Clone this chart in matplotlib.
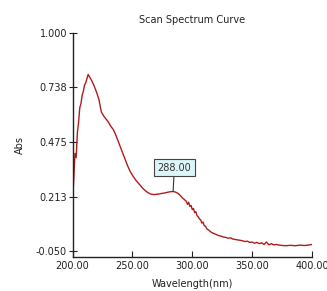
import numpy as np
import matplotlib
matplotlib.use("Agg")
import matplotlib.pyplot as plt

## Data
wavelength = [200, 201, 202, 203, 204, 205, 206, 207, 208, 209, 210, 211, 212, 213, 214,
              215, 216, 218, 220, 222, 224, 226, 228, 230, 232, 234, 236, 238, 240, 242,
              244, 246, 248, 250, 253, 256, 259, 262, 265, 268, 271, 274, 277, 280, 282,
              284, 286, 288, 290, 292, 294, 295, 296, 297, 298, 299, 300, 301, 302, 303,
              304, 305, 306, 307, 308, 309, 310, 311, 312, 314, 316, 318, 320, 322, 324,
              326, 328, 330, 332, 334, 336, 338, 340, 342, 344, 346, 348, 350, 352, 354,
              356, 358, 360, 362, 364, 366, 368, 370, 374, 378, 382, 386, 390, 394, 398, 400]
absorbance = [0.19, 0.30, 0.42, 0.40, 0.52, 0.57, 0.64, 0.66, 0.70, 0.72, 0.75, 0.76, 0.78, 0.80, 0.79,
              0.78, 0.77, 0.745, 0.715, 0.68, 0.62, 0.60, 0.585, 0.57, 0.55, 0.535, 0.51, 0.48, 0.45, 0.42,
              0.39, 0.36, 0.335, 0.315, 0.29, 0.27, 0.25, 0.235, 0.225, 0.222, 0.224, 0.227, 0.230, 0.234, 0.236,
              0.237, 0.234, 0.228, 0.218, 0.205, 0.195, 0.19, 0.175, 0.185, 0.165, 0.17, 0.15, 0.155, 0.135, 0.14,
              0.12, 0.115, 0.105, 0.10, 0.085, 0.09, 0.072, 0.07, 0.058, 0.05, 0.04, 0.035, 0.03, 0.025, 0.022,
              0.018, 0.016, 0.012, 0.014, 0.008, 0.006, 0.004, 0.002, 0.0, -0.004, -0.002, -0.008, -0.006, -0.012, -0.008,
              -0.014, -0.01, -0.018, -0.006, -0.02, -0.014, -0.02, -0.018, -0.022, -0.024, -0.022, -0.024, -0.021, -0.023, -0.020, -0.018]

x_ticks = [200, 250, 300, 350, 400]
x_tick_labels = ["200.00", "250.00", "300.00", "350.00", "400.00"]
y_ticks = [-0.05, 0.2125, 0.475, 0.7375, 1.0]
y_tick_labels = ["-0.050", "0.213", "0.475", "0.738", "1.000"]

peak_wl = 284
peak_abs = 0.237
peak_label = "288.00"

fig = plt.figure(figsize=(3.27, 2.91), dpi=100)
ax = fig.add_axes([0.222, 0.117, 0.732, 0.77])

ax.plot(wavelength, absorbance, color="#b01c1c", lw=1.0)

ax.set_xlim(200, 400)
ax.set_ylim(-0.078, 1.0)
ax.set_xticks(x_ticks)
ax.set_xticklabels(x_tick_labels)
ax.set_yticks(y_ticks)
ax.set_yticklabels(y_tick_labels)

for side in ["top", "right"]:
    ax.spines[side].set_visible(False)
for side in ["left", "bottom"]:
    ax.spines[side].set_color("#222222")
    ax.spines[side].set_linewidth(1.0)

ax.tick_params(axis="x", direction="in", length=4, labelsize=7, colors="#222222", pad=3)
ax.tick_params(axis="y", direction="inout", length=6, labelsize=7, colors="#222222", pad=1)

ax.set_xlabel("Wavelength(nm)", fontsize=7, color="#222222", va="center")
ax.xaxis.set_label_coords(0.5, -0.12)
ax.set_ylabel("Abs", fontsize=7, color="#222222", va="center")
ax.yaxis.set_label_coords(-0.22, 0.5)
ax.text(0.5, 1.058, "Scan Spectrum Curve", transform=ax.transAxes,
        ha="center", va="center", fontsize=7, color="#222222")

## peak marker box
ax.annotate(peak_label, xy=(peak_wl, peak_abs), xytext=(285, 0.351),
            ha="center", va="center", fontsize=7, color="#333333",
            bbox=dict(boxstyle="square,pad=0.35", fc="#dcf6f8", ec="#444444", lw=0.8),
            arrowprops=dict(arrowstyle="-", color="#333333", lw=0.8, shrinkA=0, shrinkB=0))

fig.savefig("out.png", dpi=100)
